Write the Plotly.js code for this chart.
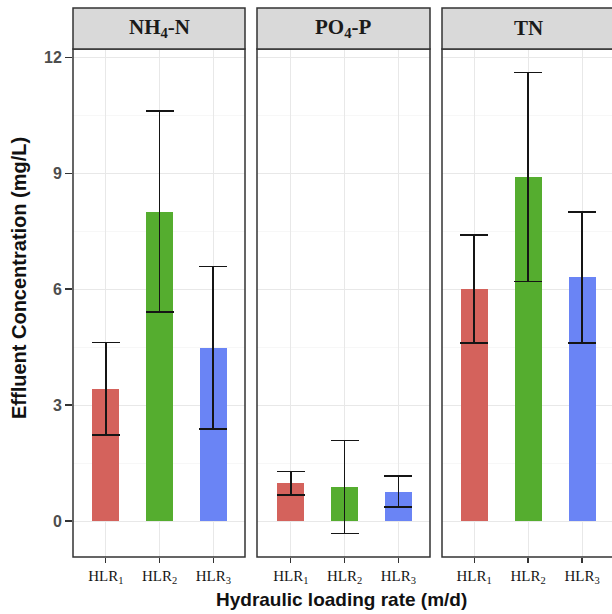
<!DOCTYPE html>
<html>
<head>
<meta charset="utf-8">
<script src="https://cdn.plot.ly/plotly-3.0.1.min.js"></script>
<style>html,body{margin:0;padding:0;background:#fff;overflow:hidden}</style>
</head>
<body>
<div id="chart" style="width:612px;height:614px"></div>
<script>
// ---- data ----
var categories = [1, 2, 3];
var tickLabels = ['HLR<sub>1</sub>', 'HLR<sub>2</sub>', 'HLR<sub>3</sub>'];
var panelNames = ['NH<sub>4</sub>-N', 'PO<sub>4</sub>-P', 'TN'];
var nh4Mean = [3.42, 8.0, 4.48];
var nh4Err  = [1.2, 2.6, 2.1];
var po4Mean = [0.98, 0.88, 0.76];
var po4Err  = [0.3, 1.2, 0.4];
var tnMean  = [6.0, 8.9, 6.3];
var tnErr   = [1.4, 2.7, 1.7];
var barColors = ['#D4625C', '#55AD2F', '#6A84F5'];

var means = [nh4Mean, po4Mean, tnMean];
var errs = [nh4Err, po4Err, tnErr];

// ---- layout geometry ----
var W = 612, H = 614, L = 73, R = 0, T = 49, B = 57;
var pw = W - L - R, ph = H - T - B;
function px(x){ return (x - L) / pw; }
var domains = [[px(73), px(245)], [px(257), px(430)], [px(442), 1]];
var xranges = [[0.39, 3.59], [0.37, 3.59], [0.405, 3.555]];
var panelRight = [px(245), px(430), px(616)];

var traces = [];
for (var p = 0; p < 3; p++) {
  var sfx = p === 0 ? '' : String(p + 1);
  traces.push({
    type: 'bar',
    x: categories,
    y: means[p],
    width: 0.5,
    xaxis: 'x' + sfx,
    yaxis: 'y' + sfx,
    marker: {color: barColors, line: {width: 0}},
    error_y: {type: 'data', array: errs[p], visible: true, color: '#151515', thickness: 1.6, width: 14},
    hoverinfo: 'x+y',
    showlegend: false
  });
}

var layout = {
  width: W, height: H,
  margin: {l: L, r: R, t: T, b: B, pad: 0},
  paper_bgcolor: '#ffffff',
  plot_bgcolor: '#ffffff',
  showlegend: false,
  bargap: 0,
  shapes: [],
  annotations: []
};

var stripTop = 1 + (T - 8) / ph;
for (var p = 0; p < 3; p++) {
  var sfx = p === 0 ? '' : String(p + 1);
  layout['xaxis' + sfx] = {
    domain: domains[p],
    anchor: 'y' + sfx,
    range: xranges[p],
    tickmode: 'array',
    tickvals: categories,
    ticktext: tickLabels,
    ticks: 'outside', ticklen: 5, tickwidth: 1.2, tickcolor: '#333333',
    tickfont: {family: 'Liberation Serif, Times New Roman, serif', size: 15, color: '#151515'},
    showgrid: true, gridcolor: '#E8E8E8', gridwidth: 1,
    zeroline: false, showline: false, fixedrange: true
  };
  layout['yaxis' + sfx] = {
    domain: [0, 1],
    anchor: 'x' + sfx,
    matches: p === 0 ? undefined : 'y',
    range: [-0.93, 12.21],
    tickmode: 'linear', tick0: 0, dtick: 3,
    showticklabels: p === 0,
    ticks: p === 0 ? 'outside' : '',
    ticklen: 7, tickwidth: 1.2, tickcolor: '#333333',
    tickfont: {family: 'Liberation Sans, Arial, sans-serif', size: 16, color: '#4D4D4D', weight: 'bold'},
    showgrid: true, gridcolor: '#E8E8E8', gridwidth: 1,
    minor: {tickmode: 'linear', tick0: 1.5, dtick: 3, showgrid: true, gridcolor: '#F2F2F2', gridwidth: 0.6, ticks: ''},
    zeroline: false, showline: false, fixedrange: true
  };
  var x0 = domains[p][0], x1 = panelRight[p];
  // panel border
  layout.shapes.push({type: 'rect', xref: 'paper', yref: 'paper', x0: x0, x1: x1, y0: 0, y1: 1,
    line: {color: '#333333', width: 1.5}, fillcolor: 'rgba(0,0,0,0)', layer: 'above'});
  // strip
  layout.shapes.push({type: 'rect', xref: 'paper', yref: 'paper', x0: x0, x1: x1, y0: 1, y1: stripTop,
    line: {color: '#333333', width: 1.5}, fillcolor: '#D9D9D9', layer: 'above'});
  layout.annotations.push({
    xref: 'paper', yref: 'paper',
    x: (domains[p][0] + (p === 2 ? px(615) : domains[p][1])) / 2,
    y: (1 + stripTop) / 2,
    text: panelNames[p], showarrow: false,
    xanchor: 'center', yanchor: 'middle',
    font: {family: 'Liberation Serif, Times New Roman, serif', size: 21, color: '#1a1a1a', weight: 'bold'}
  });
}

// axis titles
layout.annotations.push({
  xref: 'paper', yref: 'paper', x: px(341), y: -(599 - (T + ph)) / ph,
  text: 'Hydraulic loading rate (m/d)', showarrow: false,
  xanchor: 'center', yanchor: 'middle',
  font: {family: 'Liberation Sans, Arial, sans-serif', size: 19, color: '#111111', weight: 'bold'}
});
layout.annotations.push({
  xref: 'paper', yref: 'paper', x: px(19), y: 1 - (278 - T) / ph,
  text: 'Effluent Concentration (mg/L)', showarrow: false, textangle: -90,
  xanchor: 'center', yanchor: 'middle',
  font: {family: 'Liberation Sans, Arial, sans-serif', size: 20, color: '#111111', weight: 'bold'}
});

Plotly.newPlot('chart', traces, layout, {displayModeBar: false, staticPlot: true});
</script>
</body>
</html>
